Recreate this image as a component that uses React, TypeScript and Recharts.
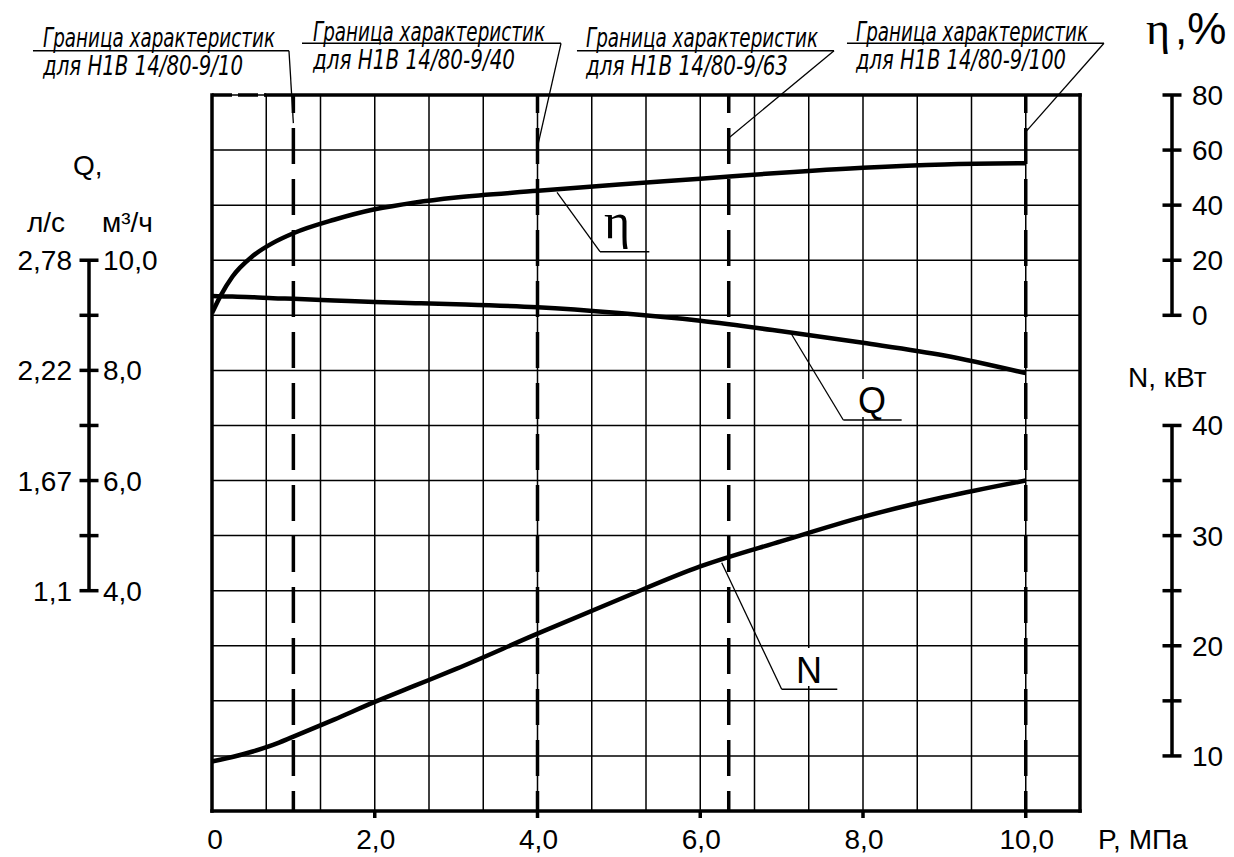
import React from 'react';
import { LineChart, Line, XAxis, YAxis, CartesianGrid, ReferenceLine } from 'recharts';

// ---------------- data ----------------
const pressureMPa = [0, 0.1, 0.25, 0.5, 0.75, 1, 1.5, 2, 2.5, 3, 4, 5, 6, 7, 8, 9, 10];
const efficiencyPct = [0.8, 6.8, 14.0, 21.5, 26.3, 29.8, 34.7, 38.5, 41.0, 42.8, 45.2, 47.5, 49.6, 51.8, 53.6, 54.8, 55.2];
const flowM3h = [9.35, 9.345, 9.34, 9.33, 9.31, 9.3, 9.27, 9.24, 9.22, 9.2, 9.145, 9.04, 8.9, 8.71, 8.5, 8.27, 7.95];
const powerKW = [9.5, 9.65, 9.9, 10.4, 11.0, 11.75, 13.3, 14.9, 16.4, 17.9, 21.1, 24.2, 27.2, 29.5, 31.7, 33.5, 35.0];

const boundaryPressure = [1.0, 4.0, 6.35, 10.0];
const boundaryTitle = 'Граница характеристик';
const boundaryPump = ['для Н1В 14/80-9/10', 'для Н1В 14/80-9/40', 'для Н1В 14/80-9/63', 'для Н1В 14/80-9/100'];

const xTicks = [0, 2 / 3, 4 / 3, 2, 8 / 3, 10 / 3, 4, 14 / 3, 16 / 3, 6, 20 / 3, 22 / 3, 8, 26 / 3, 28 / 3, 10, 32 / 3];
const xTickLabels = ['0', '', '', '2,0', '', '', '4,0', '', '', '6,0', '', '', '8,0', '', '', '10,0', ''];

const qTicks = [0, 1, 2, 3, 4, 5, 6, 7, 8, 9, 10, 11, 12, 13];
const qLabelsM3h: Record<number, string> = { 4: '4,0', 6: '6,0', 8: '8,0', 10: '10,0' };
const qLabelsLs: Record<number, string> = { 4: '1,1', 6: '1,67', 8: '2,22', 10: '2,78' };
const etaTicks = [0, 20, 40, 60, 80];
const etaLabels: Record<number, string> = { 0: '0', 20: '20', 40: '40', 60: '60', 80: '80' };
const nTicks = [10, 15, 20, 25, 30, 35, 40];
const nLabels: Record<number, string> = { 10: '10', 20: '20', 30: '30', 40: '40' };

const data = pressureMPa.map((P, i) => ({ P, eta: efficiencyPct[i], Q: flowM3h[i], N: powerKW[i] }));

// ---------------- layout ----------------
const W = 1234;
const H = 857;
const PLOT_TOP = 95;
const X_AXIS_H = 46;
const PLOT_H = H - PLOT_TOP - X_AXIS_H;
const PLOT_BOTTOM = PLOT_TOP + PLOT_H;
const X_DOMAIN: [number, number] = [0, 32 / 3];
const Q_DOMAIN: [number, number] = [0, 13];
const ETA_DOMAIN: [number, number] = [-180, 80];
const N_DOMAIN: [number, number] = [5, 70];

const SANS = "'Liberation Sans', Arial, sans-serif";
const SERIF = "'Liberation Serif', 'DejaVu Serif', serif";
const NARROW = "'Liberation Sans Narrow', 'DejaVu Sans Condensed', 'Liberation Sans', sans-serif";
const AX_W = 3.5;

type ScaleTickOpts = {
  axisX: number;
  domain: [number, number];
  step: number;
  min: number;
  max: number;
  right: Record<number, string>;
  left?: Record<number, string>;
  gap: number;
};

const makeScaleTick = (o: ScaleTickOpts) => (props: any) => {
  const { y, payload } = props;
  const v = payload.value as number;
  if (v < o.min - 1e-9 || v > o.max + 1e-9) return <g />;
  const seg = (PLOT_H * o.step) / (o.domain[1] - o.domain[0]);
  const r = o.right[v];
  const l = o.left ? o.left[v] : undefined;
  return (
    <g>
      {v < o.max - 1e-9 && (
        <line x1={o.axisX} x2={o.axisX} y1={y} y2={y - seg} stroke="#000" strokeWidth={AX_W} />
      )}
      <line x1={o.axisX - 9.5} x2={o.axisX + 9.5} y1={y} y2={y} stroke="#000" strokeWidth={AX_W} />
      {r !== undefined && (
        <text x={o.axisX + o.gap} y={y + 10} fontFamily={SANS} fontSize={28} fill="#000">
          {r}
        </text>
      )}
      {l !== undefined && (
        <text x={o.axisX - 17} y={y + 10} fontFamily={SANS} fontSize={28} fill="#000" textAnchor="end">
          {l}
        </text>
      )}
    </g>
  );
};

const QTick = makeScaleTick({ axisX: 89, domain: Q_DOMAIN, step: 1, min: 4, max: 10, right: qLabelsM3h, left: qLabelsLs, gap: 14 });
const EtaTick = makeScaleTick({ axisX: 1172, domain: ETA_DOMAIN, step: 20, min: 0, max: 80, right: etaLabels, gap: 20 });
const NTick = makeScaleTick({ axisX: 1172, domain: N_DOMAIN, step: 5, min: 10, max: 40, right: nLabels, gap: 20 });

const XTick = (props: any) => {
  const { x, payload } = props;
  const v = payload.value as number;
  const idx = xTicks.findIndex((t) => Math.abs(t - v) < 1e-6);
  const label = idx >= 0 ? xTickLabels[idx] : '';
  if (!label) return <g />;
  return (
    <g>
      {v > 0 && <line x1={x} x2={x} y1={PLOT_BOTTOM} y2={PLOT_BOTTOM + 7} stroke="#000" strokeWidth={AX_W} />}
      <text x={x + (v === 0 ? 3 : 1)} y={849} fontFamily={SANS} fontSize={28} fill="#000" textAnchor="middle">
        {label}
      </text>
    </g>
  );
};

// boundary-note layout (pixels) and leader geometry (data units: P, Q-grid units)
const noteLayout = [
  { x: 43, b1: 47, b2: 75, w1: 232, w2: 200 },
  { x: 313, b1: 40.5, b2: 68.5, w1: 232, w2: 202 },
  { x: 586, b1: 47, b2: 75, w1: 232, w2: 202 },
  { x: 856, b1: 41, b2: 68.5, w1: 232, w2: 210 },
];
const noteLeaders = [
  { from: -2.2, to: 0.946, level: 13.804, end: 12.49 },
  { from: 1.106, to: 4.289, level: 13.939, end: 12.06 },
  { from: 4.485, to: 7.644, level: 13.804, end: 12.22 },
  { from: 7.803, to: 10.961, level: 13.939, end: 12.33 },
];

const Annotations = () => (
  <g>
    {noteLayout.map((n, i) => (
      <g key={i}>
        <text x={n.x} y={n.b1} fontFamily={NARROW} fontStyle="italic" fontSize={26} fill="#000" textLength={n.w1} lengthAdjust="spacingAndGlyphs">
          {boundaryTitle}
        </text>
        <text x={n.x} y={n.b2} fontFamily={NARROW} fontStyle="italic" fontSize={26} fill="#000" textLength={n.w2} lengthAdjust="spacingAndGlyphs">
          {boundaryPump[i]}
        </text>
      </g>
    ))}
    {/* left axis titles */}
    <text x={73} y={175} fontFamily={SANS} fontSize={28} fill="#000">Q,</text>
    <text x={27} y={232} fontFamily={SANS} fontSize={28} fill="#000">л/с</text>
    <text x={102} y={232} fontFamily={SANS} fontSize={28} fill="#000">м³/ч</text>
    {/* right axis titles */}
    <text x={1146} y={44} fontFamily={SERIF} fontSize={46} fill="#000">η</text>
    <text x={1175} y={44} fontFamily={SANS} fontSize={44} fill="#000">,%</text>
    <text x={1128} y={387} fontFamily={SANS} fontSize={28} fill="#000">N, кВт</text>
    <text x={1098} y={849} fontFamily={SANS} fontSize={28} fill="#000">P, МПа</text>
    {/* curve labels */}
    <rect x={848} y={379} width={50} height={38} fill="#fff" />
    <rect x={788} y={648} width={44} height={38} fill="#fff" />
    <text x={617} y={238} fontFamily={SERIF} fontSize={50} fill="#000" textAnchor="middle">η</text>
    <text x={872} y={413} fontFamily={SANS} fontSize={36} fill="#000" textAnchor="middle">Q</text>
    <text x={809} y={683} fontFamily={SANS} fontSize={36} fill="#000" textAnchor="middle">N</text>
  </g>
);

export default function App() {
  return (
    <div style={{ position: 'absolute', left: 0, top: 0, width: W, height: H, background: '#fff' }}>
      <LineChart width={W} height={H} data={data} margin={{ top: PLOT_TOP, right: 0, bottom: 0, left: 0 }}>
        <CartesianGrid yAxisId="q" stroke="#000" strokeWidth={1.5} strokeOpacity={1} />
        <XAxis
          type="number"
          dataKey="P"
          domain={X_DOMAIN}
          ticks={xTicks}
          interval={0}
          allowDataOverflow
          axisLine={false}
          tickLine={false}
          height={X_AXIS_H}
          tick={<XTick />}
        />
        <YAxis yAxisId="q" orientation="left" type="number" domain={Q_DOMAIN} ticks={qTicks} interval={0} allowDataOverflow width={212} axisLine={false} tickLine={false} tick={<QTick />} />
        <YAxis yAxisId="eta" orientation="right" type="number" domain={ETA_DOMAIN} ticks={etaTicks} interval={0} allowDataOverflow width={100} axisLine={false} tickLine={false} tick={<EtaTick />} />
        <YAxis yAxisId="n" orientation="right" type="number" domain={N_DOMAIN} ticks={nTicks} interval={0} allowDataOverflow width={54} axisLine={false} tickLine={false} tick={<NTick />} />

        {/* boundaries of characteristics */}
        {boundaryPressure.map((p) => (
          <ReferenceLine
            key={'b' + p}
            yAxisId="q"
            segment={[{ x: p, y: Q_DOMAIN[1] }, { x: p, y: Q_DOMAIN[0] }]}
            stroke="#000"
            strokeWidth={AX_W}
            strokeDasharray="36 15"
            strokeDashoffset={18}
            ifOverflow="visible"
          />
        ))}

        {/* plot frame */}
        <ReferenceLine yAxisId="q" segment={[{ x: 0, y: 0 }, { x: 0, y: 13 }]} stroke="#000" strokeWidth={AX_W} strokeLinecap="square" ifOverflow="visible" />
        <ReferenceLine yAxisId="q" segment={[{ x: X_DOMAIN[1], y: 0 }, { x: X_DOMAIN[1], y: 13 }]} stroke="#000" strokeWidth={AX_W} strokeLinecap="square" ifOverflow="visible" />
        <ReferenceLine yAxisId="q" segment={[{ x: 0, y: 0 }, { x: X_DOMAIN[1], y: 0 }]} stroke="#000" strokeWidth={AX_W} strokeLinecap="square" ifOverflow="visible" />
        <ReferenceLine yAxisId="q" segment={[{ x: xTicks[1], y: 13 }, { x: X_DOMAIN[1], y: 13 }]} stroke="#000" strokeWidth={AX_W} strokeLinecap="square" ifOverflow="visible" />
        <ReferenceLine yAxisId="q" segment={[{ x: 0, y: 13 }, { x: xTicks[1], y: 13 }]} stroke="#000" strokeWidth={AX_W} strokeDasharray="20 6" ifOverflow="visible" />

        {/* leaders of boundary notes */}
        {noteLeaders.map((l, i) => (
          <ReferenceLine key={'u' + i} yAxisId="q" segment={[{ x: l.from, y: l.level }, { x: l.to, y: l.level }]} stroke="#000" strokeWidth={1.5} ifOverflow="visible" />
        ))}
        {noteLeaders.map((l, i) => (
          <ReferenceLine key={'d' + i} yAxisId="q" segment={[{ x: l.to, y: l.level }, { x: boundaryPressure[i], y: l.end }]} stroke="#000" strokeWidth={1.3} ifOverflow="visible" />
        ))}

        {/* curve label leaders */}
        <ReferenceLine yAxisId="eta" segment={[{ x: 4.24, y: 44.6 }, { x: 4.768, y: 23.1 }]} stroke="#000" strokeWidth={1.3} ifOverflow="visible" />
        <ReferenceLine yAxisId="eta" segment={[{ x: 4.768, y: 23.1 }, { x: 5.374, y: 23.1 }]} stroke="#000" strokeWidth={1.5} ifOverflow="visible" />
        <ReferenceLine yAxisId="q" segment={[{ x: 7.111, y: 8.684 }, { x: 7.758, y: 7.099 }]} stroke="#000" strokeWidth={1.3} ifOverflow="visible" />
        <ReferenceLine yAxisId="q" segment={[{ x: 7.758, y: 7.099 }, { x: 8.475, y: 7.099 }]} stroke="#000" strokeWidth={1.5} ifOverflow="visible" />
        <ReferenceLine yAxisId="n" segment={[{ x: 6.264, y: 27.54 }, { x: 7.001, y: 16.05 }]} stroke="#000" strokeWidth={1.3} ifOverflow="visible" />
        <ReferenceLine yAxisId="n" segment={[{ x: 7.001, y: 16.05 }, { x: 7.684, y: 16.05 }]} stroke="#000" strokeWidth={1.5} ifOverflow="visible" />

        <Line yAxisId="eta" dataKey="eta" type="monotone" stroke="#000" strokeWidth={4.5} dot={false} activeDot={false} isAnimationActive={false} />
        <Line yAxisId="q" dataKey="Q" type="monotone" stroke="#000" strokeWidth={4.5} dot={false} activeDot={false} isAnimationActive={false} />
        <Line yAxisId="n" dataKey="N" type="monotone" stroke="#000" strokeWidth={4.5} dot={false} activeDot={false} isAnimationActive={false} />

        <Annotations />
      </LineChart>
    </div>
  );
}
